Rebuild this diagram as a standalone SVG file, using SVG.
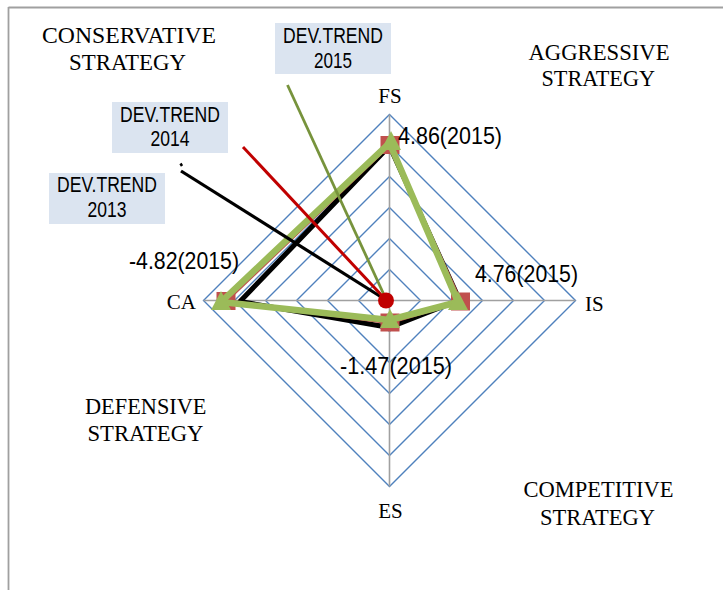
<svg xmlns="http://www.w3.org/2000/svg" width="723" height="590" viewBox="0 0 723 590">
<style>
.frame{stroke:#a0a0a0;stroke-width:1.8;fill:none}
.ring{fill:none;stroke:#4f81bd;stroke-width:1.4}
.axis{stroke:#a0a0a0;stroke-width:1.6}
.serif{font-family:"Liberation Serif","Times New Roman",serif;font-size:23px;fill:#000}
.axl{font-family:"Liberation Serif","Times New Roman",serif;font-size:21px;fill:#000}
.sans{font-family:"Liberation Sans",Arial,sans-serif;fill:#000}
.dl{font-size:24px}
.bx{font-size:22px}
.box{fill:#dbe4f0}
.s13{fill:none;stroke:#000;stroke-width:5;stroke-linejoin:round}
.s14{fill:none;stroke:#c0504d;stroke-width:3.5;stroke-linejoin:round}
.s15{fill:none;stroke:#9bbb59;stroke-width:6.5;stroke-linejoin:round}
.sq{fill:#c0504d}
.tri{fill:#9bbb59}
</style>
<defs>
<rect id="sqm" class="sq" x="-9.5" y="-9" width="19" height="18"/>
<polygon id="trm" class="tri" points="0,-11 10,8 -10,8"/>
</defs>
<g id="frame">
<line class="frame" x1="8.5" y1="7.5" x2="723" y2="7.5"/>
<line class="frame" x1="8.5" y1="7" x2="8.5" y2="590"/>
</g>
<g id="grid">
<polygon class="ring" points="389.5,269.5 420.5,300.5 389.5,331.5 358.5,300.5"/>
<polygon class="ring" points="389.5,238.5 451.5,300.5 389.5,362.5 327.5,300.5"/>
<polygon class="ring" points="389.5,207.5 482.5,300.5 389.5,393.5 296.5,300.5"/>
<polygon class="ring" points="389.5,176.5 513.5,300.5 389.5,424.5 265.5,300.5"/>
<polygon class="ring" points="389.5,145.5 544.5,300.5 389.5,455.5 234.5,300.5"/>
<polygon class="ring" points="389.5,114.5 575.5,300.5 389.5,486.5 203.5,300.5"/>
<line class="axis" x1="389.5" y1="114.5" x2="389.5" y2="486.5"/>
<line class="axis" x1="203.5" y1="300.5" x2="575.5" y2="300.5"/>
</g>
<g id="axis-labels">
<text class="axl" x="390" y="103" text-anchor="middle">FS</text>
<text class="axl" x="585" y="310.5">IS</text>
<text class="axl" x="196" y="308.5" text-anchor="end">CA</text>
<text class="axl" x="390.5" y="517.5" text-anchor="middle">ES</text>
</g>
<g id="quadrant-labels">
<text class="serif" x="42" y="43" textLength="174" lengthAdjust="spacingAndGlyphs">CONSERVATIVE</text>
<text class="serif" x="69" y="70" textLength="117" lengthAdjust="spacingAndGlyphs">STRATEGY</text>
<text class="serif" x="528.5" y="60" textLength="141" lengthAdjust="spacingAndGlyphs">AGGRESSIVE</text>
<text class="serif" x="541.5" y="86" textLength="113.5" lengthAdjust="spacingAndGlyphs">STRATEGY</text>
<text class="serif" x="85" y="414" textLength="121.5" lengthAdjust="spacingAndGlyphs">DEFENSIVE</text>
<text class="serif" x="87.5" y="441" textLength="116" lengthAdjust="spacingAndGlyphs">STRATEGY</text>
<text class="serif" x="523.5" y="497" textLength="150" lengthAdjust="spacingAndGlyphs">COMPETITIVE</text>
<text class="serif" x="540" y="524.5" textLength="115" lengthAdjust="spacingAndGlyphs">STRATEGY</text>
</g>
<g id="series-2013">
<polygon class="s13" points="389.5,146 459.5,300 389.5,327.5 240,301.5"/>
</g>
<g id="series-2014">
<polygon class="s14" points="389.5,145 460.5,301.5 389.5,322.5 226,301"/>
<use href="#sqm" x="390" y="145"/>
<use href="#sqm" x="460.5" y="301.5"/>
<use href="#sqm" x="390" y="322.5"/>
<use href="#sqm" x="226" y="301"/>
</g>
<g id="series-2015">
<polygon class="s15" points="389.5,143 458,302 389.5,320 221,302"/>
<use href="#trm" x="391" y="142"/>
<use href="#trm" x="458" y="302"/>
<use href="#trm" x="390" y="320"/>
<use href="#trm" x="221" y="302"/>
</g>
<g id="data-labels" class="sans dl">
<text x="398" y="143.5" textLength="104" lengthAdjust="spacingAndGlyphs">4.86(2015)</text>
<text x="475" y="281.5" textLength="103" lengthAdjust="spacingAndGlyphs">4.76(2015)</text>
<text x="340" y="373.5" textLength="112" lengthAdjust="spacingAndGlyphs">-1.47(2015)</text>
<text x="129" y="268.5" textLength="110" lengthAdjust="spacingAndGlyphs">-4.82(2015)</text>
</g>
<g id="connectors">
<path d="M180.5,163.5 L182,166" stroke="#000" stroke-width="2.5" fill="none"/>
<line x1="181" y1="171" x2="386" y2="300" stroke="#000" stroke-width="3.2"/>
<line x1="243" y1="147" x2="386" y2="300" stroke="#c00000" stroke-width="3"/>
<line x1="287.5" y1="85" x2="385" y2="297" stroke="#77933c" stroke-width="2.8"/>
</g>
<g id="center-dot">
<circle cx="386" cy="300.5" r="8" fill="#c00000"/>
</g>
<g id="callout-2015">
<rect class="box" x="275" y="23" width="116" height="51"/>
<text class="sans bx" x="333" y="43.3" text-anchor="middle" textLength="100" lengthAdjust="spacingAndGlyphs">DEV.TREND</text>
<text class="sans bx" x="333" y="68.3" text-anchor="middle" textLength="38" lengthAdjust="spacingAndGlyphs">2015</text>
</g>
<g id="callout-2014">
<rect class="box" x="112" y="102" width="116" height="51"/>
<text class="sans bx" x="170" y="121.7" text-anchor="middle" textLength="100" lengthAdjust="spacingAndGlyphs">DEV.TREND</text>
<text class="sans bx" x="170" y="146" text-anchor="middle" textLength="39" lengthAdjust="spacingAndGlyphs">2014</text>
</g>
<g id="callout-2013">
<rect class="box" x="49" y="173" width="116" height="51"/>
<text class="sans bx" x="107" y="192.3" text-anchor="middle" textLength="100" lengthAdjust="spacingAndGlyphs">DEV.TREND</text>
<text class="sans bx" x="107" y="216.7" text-anchor="middle" textLength="39" lengthAdjust="spacingAndGlyphs">2013</text>
</g>
</svg>
